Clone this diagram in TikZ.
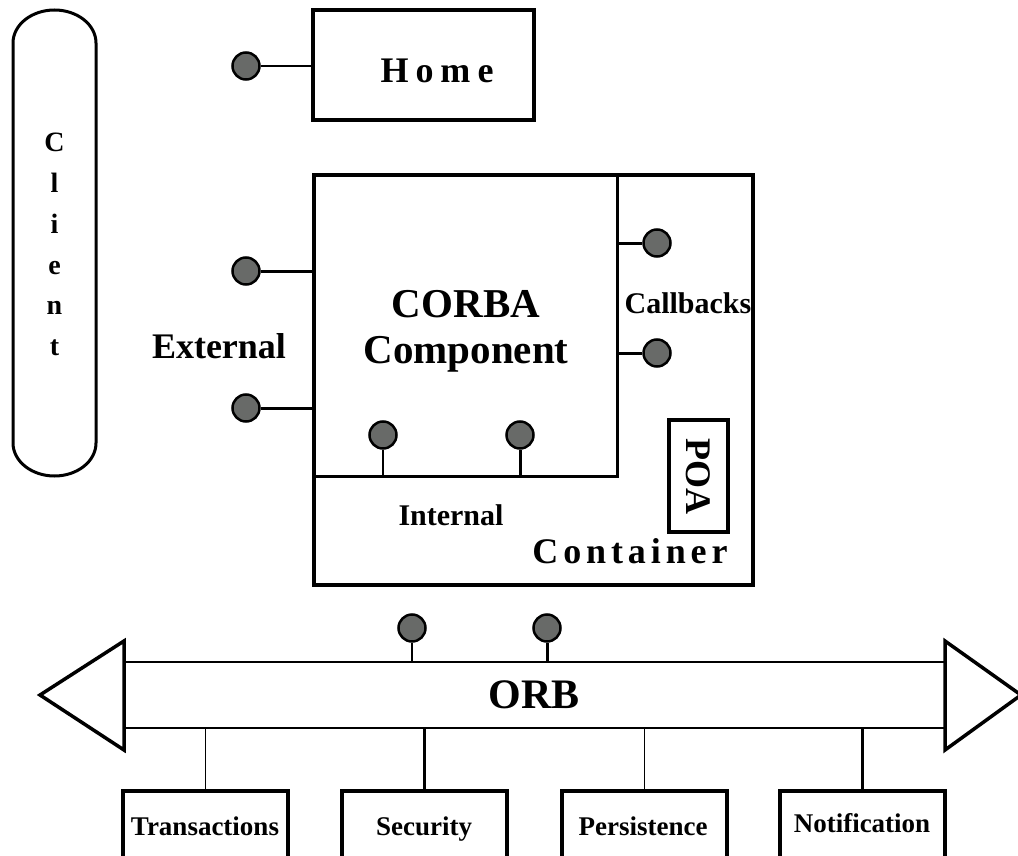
\documentclass[tikz,border=0pt]{standalone}
\usepackage{fontspec}
\setmainfont{Liberation Serif}
\definecolor{lollyfill}{RGB}{104,106,104}
\begin{document}
\begin{tikzpicture}[x=1pt,y=-1pt,
  frame/.style={draw, line width=3.5pt, inner sep=0pt},
  lolly/.style={circle, draw, line width=2.5pt, fill=lollyfill, minimum size=27pt, inner sep=0pt},
  thinstem/.style={line width=1.5pt},
  thickstem/.style={line width=3pt},
  txt/.style={inner sep=0pt, anchor=base},
  fs/.style={font=\fontsize{#1}{#1}\selectfont\bfseries}
]
\useasboundingbox (0,0) rectangle (1018,856);
\clip (0,0) rectangle (1018,856);

% Client capsule
\draw[line width=3pt] (13,43) -- (13,443)
  arc[start angle=180, end angle=0, x radius=41.5, y radius=33]
  -- (96,43)
  arc[start angle=0, end angle=-180, x radius=41.5, y radius=33] -- cycle;
\node[inner sep=0pt, anchor=north, align=center,
      font=\fontsize{28}{40.8}\selectfont\bfseries] (client) at (54.5,133) {C\\l\\i\\e\\n\\t};

% Home
\node[frame, minimum width=221pt, minimum height=110pt] (home) at (423.5,65) {};
\node[txt, fs=36] (hometxt) at (437,83) {H\kern7pt o\kern7pt m\kern7pt e};
\node[lolly] (hl) at (246,66) {};
\draw[thinstem] (hl) -- (hl -| home.west);

% Container and component
\node[frame, minimum width=439pt, minimum height=410pt] (cont) at (533.5,380) {};
\node[draw, line width=3pt, minimum width=303pt, minimum height=301pt, inner sep=0pt] (comp) at (465.5,325.5) {};
\node[inner sep=0pt, anchor=north, align=center,
      font=\fontsize{41}{46}\selectfont\bfseries] (comptxt) at (466,290) {CORBA\\Component};

% External interfaces
\node[lolly] (e1) at (246,271) {};
\node[lolly] (e2) at (246,408) {};
\draw[thickstem] (e1) -- (e1 -| comp.west);
\draw[thickstem] (e2) -- (e2 -| comp.west);
\node[txt, fs=36] (exttxt) at (219,358) {External};

% Callbacks
\node[lolly] (c1) at (657,243) {};
\node[lolly] (c2) at (657,353) {};
\draw[thickstem] (c1) -- (c1 -| comp.east);
\draw[thickstem] (c2) -- (c2 -| comp.east);
\node[txt, fs=30] (cbtxt) at (688,313) {Callbacks};

% Internal interfaces
\node[lolly] (i1) at (383,435) {};
\node[lolly] (i2) at (520,435) {};
\draw[thinstem] (i1) -- (i1 |- comp.south);
\draw[thickstem] (i2) -- (i2 |- comp.south);
\node[txt, fs=30] (inttxt) at (451,525) {Internal};

% POA and container label
\node[frame, rotate=-90, minimum width=112pt, minimum height=59pt, fs=36] (poa) at (698.5,476) {POA};
\node[txt, fs=36] (conttxt) at (630,563) {C\kern4.9pt o\kern4.9pt n\kern4.9pt t\kern4.9pt a\kern4.9pt i\kern4.9pt n\kern4.9pt e\kern4.9pt r};

% ORB bus
\coordinate (lt) at (124,662);
\coordinate (lb) at (124,728);
\coordinate (rt) at (945,662);
\coordinate (rb) at (945,728);
\draw[line width=1.8pt] (lt) -- (rt);
\draw[line width=1.8pt] (lb) -- (rb);
\draw[line width=3.5pt, line join=miter] (124,641) -- (40,695) -- (124,750) -- cycle;
\draw[line width=3.5pt, line join=miter] (945,641) -- (1021,695) -- (945,750) -- cycle;
\node[txt, fs=42] (orbtxt) at (534,708) {ORB};
\node[lolly] (o1) at (412,628) {};
\node[lolly] (o2) at (547,628) {};
\draw[thinstem] (o1) -- (o1 |- lt);
\draw[thickstem] (o2) -- (o2 |- lt);

% Services
\node[frame, minimum width=165pt, minimum height=100pt] (trans) at (205.5,841) {};
\node[frame, minimum width=165pt, minimum height=100pt] (sec) at (424.5,841) {};
\node[frame, minimum width=165pt, minimum height=100pt] (pers) at (644.5,841) {};
\node[frame, minimum width=165pt, minimum height=100pt] (notif) at (862.5,841) {};
\draw[thinstem] (trans.north) -- (trans.north |- lb);
\draw[thickstem] (sec.north) -- (sec.north |- lb);
\draw[thinstem] (pers.north) -- (pers.north |- lb);
\draw[thickstem] (notif.north) -- (notif.north |- lb);
\node[txt, fs=27] (transtxt) at (205,835) {Transactions};
\node[txt, fs=27] (sectxt) at (424,835) {Security};
\node[txt, fs=27] (perstxt) at (643,835) {Persistence};
\node[txt, fs=27] (notiftxt) at (862,832) {Notification};
\end{tikzpicture}
\end{document}
